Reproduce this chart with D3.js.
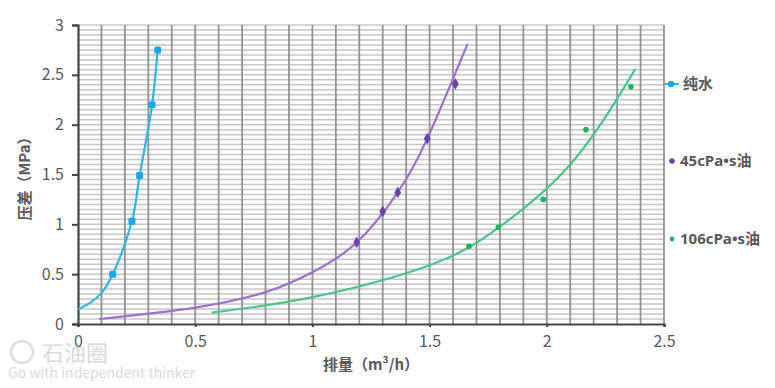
<!DOCTYPE html>
<html>
<head>
<meta charset="utf-8">
<script src="https://cdn.jsdelivr.net/npm/d3@7"></script>
<style>
    body { margin: 0; background: #fff; }
    text { font-family: "Noto Sans CJK SC", "Open Sans", sans-serif; fill: #595959; }
</style>
</head>
<body>
<script>
// measured points
var waterX = [0.148, 0.230, 0.263, 0.316, 0.340];
var waterY = [0.50, 1.03, 1.49, 2.20, 2.75];
var oil45X = [1.189, 1.300, 1.364, 1.490, 1.610];
var oil45Y = [0.82, 1.13, 1.32, 1.86, 2.41];
var oil106X = [1.668, 1.793, 1.985, 2.167, 2.359];
var oil106Y = [0.78, 0.97, 1.25, 1.95, 2.38];

// fitted curves
var waterFitX = [0, 0.05, 0.10, 0.148, 0.230, 0.263, 0.316, 0.340];
var waterFitY = [0.15, 0.21, 0.31, 0.50, 1.03, 1.49, 2.20, 2.75];
var oil45FitX = [0.09, 0.50, 0.80, 1.00, 1.19, 1.364, 1.49, 1.662];
var oil45FitY = [0.05, 0.165, 0.32, 0.52, 0.82, 1.32, 1.86, 2.81];
var oil106FitX = [0.57, 1.00, 1.50, 1.79, 2.10, 2.378];
var oil106FitY = [0.115, 0.27, 0.59, 0.96, 1.60, 2.56];

var xTicks = [0, 0.5, 1, 1.5, 2, 2.5];
var yTicks = [0, 0.5, 1, 1.5, 2, 2.5, 3];
var seriesNames = ["纯水", "45cPa•s油", "106cPa•s油"];

window.onload = setChart();

function setChart(){

    var width = 775,
        height = 388;

    var svg = d3.select("body")
        .append("svg")
        .attr("width", width)
        .attr("height", height);

    var x = d3.scaleLinear().domain([0, 2.5]).range([78, 664]);
    var y = d3.scaleLinear().domain([0, 3]).range([324, 25]);

    // grid
    var hLines = d3.range(1, 61).map(function(i){ return i * 0.05; });
    var vLines = d3.range(1, 26).map(function(i){ return i * 0.1; });

    svg.selectAll(".hgrid")
        .data(hLines)
        .enter()
        .append("line")
        .attr("class", "hgrid")
        .attr("x1", x(0))
        .attr("x2", x(2.5))
        .attr("y1", function(d){ return y(d); })
        .attr("y2", function(d){ return y(d); })
        .attr("stroke", "#c6c6c6")
        .attr("stroke-width", 1.5);

    svg.selectAll(".vgrid")
        .data(vLines)
        .enter()
        .append("line")
        .attr("class", "vgrid")
        .attr("x1", function(d){ return x(d); })
        .attr("x2", function(d){ return x(d); })
        .attr("y1", y(0))
        .attr("y2", y(3))
        .attr("stroke", "#939393")
        .attr("stroke-width", 1.8);

    // axes
    var xAxis = d3.axisBottom(x).tickValues(xTicks).tickSize(3).tickPadding(9)
        .tickFormat(d3.format("~g"));
    var yAxis = d3.axisLeft(y).tickValues(yTicks).tickSize(6).tickPadding(8)
        .tickFormat(d3.format("~g"));

    var gx = svg.append("g")
        .attr("transform", "translate(0," + y(0) + ")")
        .call(xAxis);
    var gy = svg.append("g")
        .attr("transform", "translate(" + x(0) + ",0)")
        .call(yAxis);

    [gx, gy].forEach(function(g){
        g.select(".domain").attr("stroke", "#444").attr("stroke-width", 2.2);
        g.selectAll(".tick line").attr("stroke", "#444").attr("stroke-width", 2);
        g.selectAll(".tick text")
            .style("font-size", "16px")
            .style("font-family", "'Noto Sans CJK SC', sans-serif")
            .attr("fill", "#595959");
    });

    // fit curves
    var fits = [
        {xs: waterFitX, ys: waterFitY, color: "#2cb6ea", curve: d3.curveCatmullRom.alpha(0.5)},
        {xs: oil45FitX, ys: oil45FitY, color: "#9c6fcb", curve: d3.curveNatural},
        {xs: oil106FitX, ys: oil106FitY, color: "#47c787", curve: d3.curveNatural}
    ];

    svg.selectAll(".fit")
        .data(fits)
        .enter()
        .append("path")
        .attr("class", "fit")
        .attr("d", function(d){
            var line = d3.line()
                .x(function(p){ return x(p[0]); })
                .y(function(p){ return y(p[1]); })
                .curve(d.curve);
            return line(d3.zip(d.xs, d.ys));
        })
        .attr("fill", "none")
        .attr("stroke", function(d){ return d.color; })
        .attr("stroke-width", 2.2);

    // markers
    svg.selectAll(".pw")
        .data(d3.zip(waterX, waterY))
        .enter()
        .append("rect")
        .attr("x", function(d){ return x(d[0]) - 3.5; })
        .attr("y", function(d){ return y(d[1]) - 3.5; })
        .attr("width", 7)
        .attr("height", 7)
        .attr("rx", 1.5)
        .attr("fill", "#1ba9e4");

    svg.selectAll(".p45")
        .data(d3.zip(oil45X, oil45Y))
        .enter()
        .append("path")
        .attr("transform", function(d){ return "translate(" + x(d[0]) + "," + y(d[1]) + ")"; })
        .attr("d", d3.symbol().type(d3.symbolDiamond).size(40))
        .attr("fill", "#6f42a8");

    svg.selectAll(".p106")
        .data(d3.zip(oil106X, oil106Y))
        .enter()
        .append("circle")
        .attr("cx", function(d){ return x(d[0]); })
        .attr("cy", function(d){ return y(d[1]); })
        .attr("r", 2.8)
        .attr("fill", "#1db35c");

    // legend
    var legend = svg.append("g");
    legend.append("line")
        .attr("x1", 665).attr("x2", 679).attr("y1", 84).attr("y2", 84)
        .attr("stroke", "#2cb6ea").attr("stroke-width", 2);
    legend.append("circle").attr("cx", 671).attr("cy", 84).attr("r", 3.2).attr("fill", "#1ba9e4");
    legend.append("circle").attr("cx", 672).attr("cy", 161).attr("r", 2.8).attr("fill", "#6f42a8");
    legend.append("circle").attr("cx", 672).attr("cy", 239).attr("r", 2.4).attr("fill", "#1db35c");

    legend.selectAll(".ltext")
        .data(seriesNames)
        .enter()
        .append("text")
        .attr("x", function(d, i){ return i == 0 ? 683 : 680; })
        .attr("y", function(d, i){ return [84, 161, 239][i]; })
        .attr("dy", "0.35em")
        .style("font-size", "15px")
        .style("font-weight", "bold")
        .style("font-family", "'Open Sans', 'Noto Sans CJK SC', sans-serif")
        .text(function(d){ return d; });

    // axis titles
    svg.append("text")
        .attr("transform", "translate(25,175) rotate(-90)")
        .attr("text-anchor", "middle")
        .attr("dy", "0.35em")
        .style("font-size", "15px")
        .style("font-weight", "bold")
        .text("压差（MPa）");

    svg.append("text")
        .attr("x", 371)
        .attr("y", 365)
        .attr("text-anchor", "middle")
        .attr("dy", "0.35em")
        .style("font-size", "15px")
        .style("font-weight", "bold")
        .text("排量（m³/h）");

    // watermark
    var wm = svg.append("g").attr("opacity", 0.55);
    wm.append("circle").attr("cx", 22).attr("cy", 352).attr("r", 11)
        .attr("fill", "none").attr("stroke", "#bbb").attr("stroke-width", 2);
    wm.append("text").attr("x", 42).attr("y", 361)
        .style("font-size", "22px").style("fill", "#bbb").text("石油圈");
    wm.append("text").attr("x", 8).attr("y", 378)
        .style("font-size", "14px").style("fill", "#bbb").text("Go with independent thinker");
};
</script>
</body>
</html>
